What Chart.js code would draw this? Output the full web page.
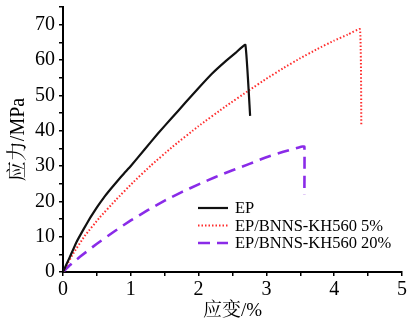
<!DOCTYPE html>
<html><head><meta charset="utf-8">
<script src="https://cdn.jsdelivr.net/npm/chart.js@4/dist/chart.umd.min.js"></script>
<style>html,body{margin:0;padding:0;background:#fff}#wrap{width:407px;height:325px}</style>
</head><body><div id="wrap"><canvas id="c" width="407" height="325"></canvas></div>
<script>
const seriesLabels = ['EP', 'EP/BNNS-KH560 5%', 'EP/BNNS-KH560 20%'];
const epStrain   = [0, 0.1, 0.2, 0.3, 0.4, 0.5, 0.6, 0.7, 0.8, 0.9, 1.0, 1.2, 1.4, 1.6, 1.8, 2.0, 2.2, 2.4, 2.55, 2.69, 2.76];
const epStress   = [0, 4.2, 8.5, 12.0, 15.3, 18.3, 21.0, 23.4, 25.7, 27.9, 30.0, 34.6, 39.2, 43.5, 47.8, 52.1, 56.2, 59.7, 62.1, 64.3, 44.2];
const bn5Strain  = [0, 0.15, 0.32, 0.54, 0.78, 1.03, 1.3, 1.6, 2.0, 2.4, 2.75, 3.0, 3.25, 3.5, 3.75, 4.0, 4.2, 4.38, 4.4];
const bn5Stress  = [0, 5.2, 10.2, 15.4, 20.4, 25.3, 30.2, 35.2, 41.3, 46.9, 51.5, 54.7, 57.7, 60.5, 63.1, 65.5, 67.2, 68.7, 41.4];
const bn20Strain = [0, 0.1, 0.25, 0.5, 0.75, 1.0, 1.25, 1.5, 1.75, 2.0, 2.25, 2.5, 2.75, 3.0, 3.25, 3.5, 3.56, 3.56];
const bn20Stress = [0, 1.9, 4.3, 8.0, 11.4, 14.6, 17.5, 20.2, 22.6, 24.8, 26.9, 28.8, 30.6, 32.5, 34.0, 35.4, 35.5, 21.8];
const xTickLabels = [0, 1, 2, 3, 4, 5];
const yTickLabels = [0, 10, 20, 30, 40, 50, 60, 70];

const pts = (xs, ys) => xs.map((x, i) => ({x, y: ys[i]}));
const serif = "'Liberation Serif','Times New Roman','Noto Serif CJK SC','Noto Sans CJK SC',serif";

const legendPlugin = {
  id: 'inLegend',
  afterDraw(chart) {
    const ctx = chart.ctx;
    const ds = chart.data.datasets;
    const x0 = 198, x1 = 228, tx = 235;
    const rows = [208, 225.5, 243];
    ctx.save();
    ctx.font = "16.5px " + serif;
    ctx.textBaseline = 'middle';
    ctx.fillStyle = '#000';
    ds.forEach((d, i) => {
      ctx.beginPath();
      ctx.strokeStyle = d.borderColor;
      ctx.lineWidth = d.borderWidth;
      ctx.setLineDash(d.borderDash || []);
      ctx.moveTo(x0, rows[i]);
      ctx.lineTo(x1, rows[i]);
      ctx.stroke();
      ctx.setLineDash([]);
      ctx.fillText(d.label, tx, rows[i] + 1);
    });
    ctx.restore();
  }
};

new Chart(document.getElementById('c'), {
  type: 'line',
  data: {
    datasets: [
      {label: seriesLabels[0], data: pts(epStrain, epStress), borderColor: '#111111', borderWidth: 2.2, pointRadius: 0, tension: 0.1, fill: false},
      {label: seriesLabels[1], data: pts(bn5Strain, bn5Stress), borderColor: '#ff2d2d', borderWidth: 2, borderDash: [1.5, 2], pointRadius: 0, tension: 0.1, fill: false},
      {label: seriesLabels[2], data: pts(bn20Strain, bn20Stress), borderColor: '#8a2be8', borderWidth: 2.6, borderDash: [12, 7], pointRadius: 0, tension: 0.1, fill: false}
    ]
  },
  options: {
    responsive: false,
    animation: false,
    devicePixelRatio: 1,
    layout: {padding: {left: 0, right: 0, top: 0, bottom: 0}},
    plugins: {legend: {display: false}, tooltip: {enabled: false}},
    scales: {
      x: {
        type: 'linear', min: 0, max: 5,
        afterFit(s) { s.height = 53; s.paddingRight = 5; s.paddingLeft = 0; },
        ticks: {stepSize: 0.5, autoSkip: false, maxRotation: 0, padding: 2, color: '#000',
          font: {family: serif, size: 20},
          callback: v => xTickLabels.includes(v) ? String(v) : ''},
        grid: {drawOnChartArea: false, drawTicks: true, tickLength: 4, color: '#000', lineWidth: 1.5},
        border: {display: true, color: '#000', width: 2},
        title: {display: true, text: '应变/%', color: '#000', font: {family: serif, size: 19}, padding: {top: 0, bottom: 3}}
      },
      y: {
        type: 'linear', min: 0, max: 75,
        afterFit(s) { s.width = 63; s.paddingTop = 7; s.paddingBottom = 0; },
        ticks: {stepSize: 5, autoSkip: false, padding: 4, color: '#000',
          font: {family: serif, size: 20},
          callback: v => yTickLabels.includes(v) ? String(v) : ''},
        grid: {drawOnChartArea: false, drawTicks: true, tickLength: 4, color: '#000', lineWidth: 1.5},
        border: {display: true, color: '#000', width: 2},
        title: {display: true, text: '应力/MPa', color: '#000', font: {family: serif, size: 20}, padding: {top: 7, bottom: 0}}
      }
    }
  },
  plugins: [legendPlugin]
});
</script></body></html>
